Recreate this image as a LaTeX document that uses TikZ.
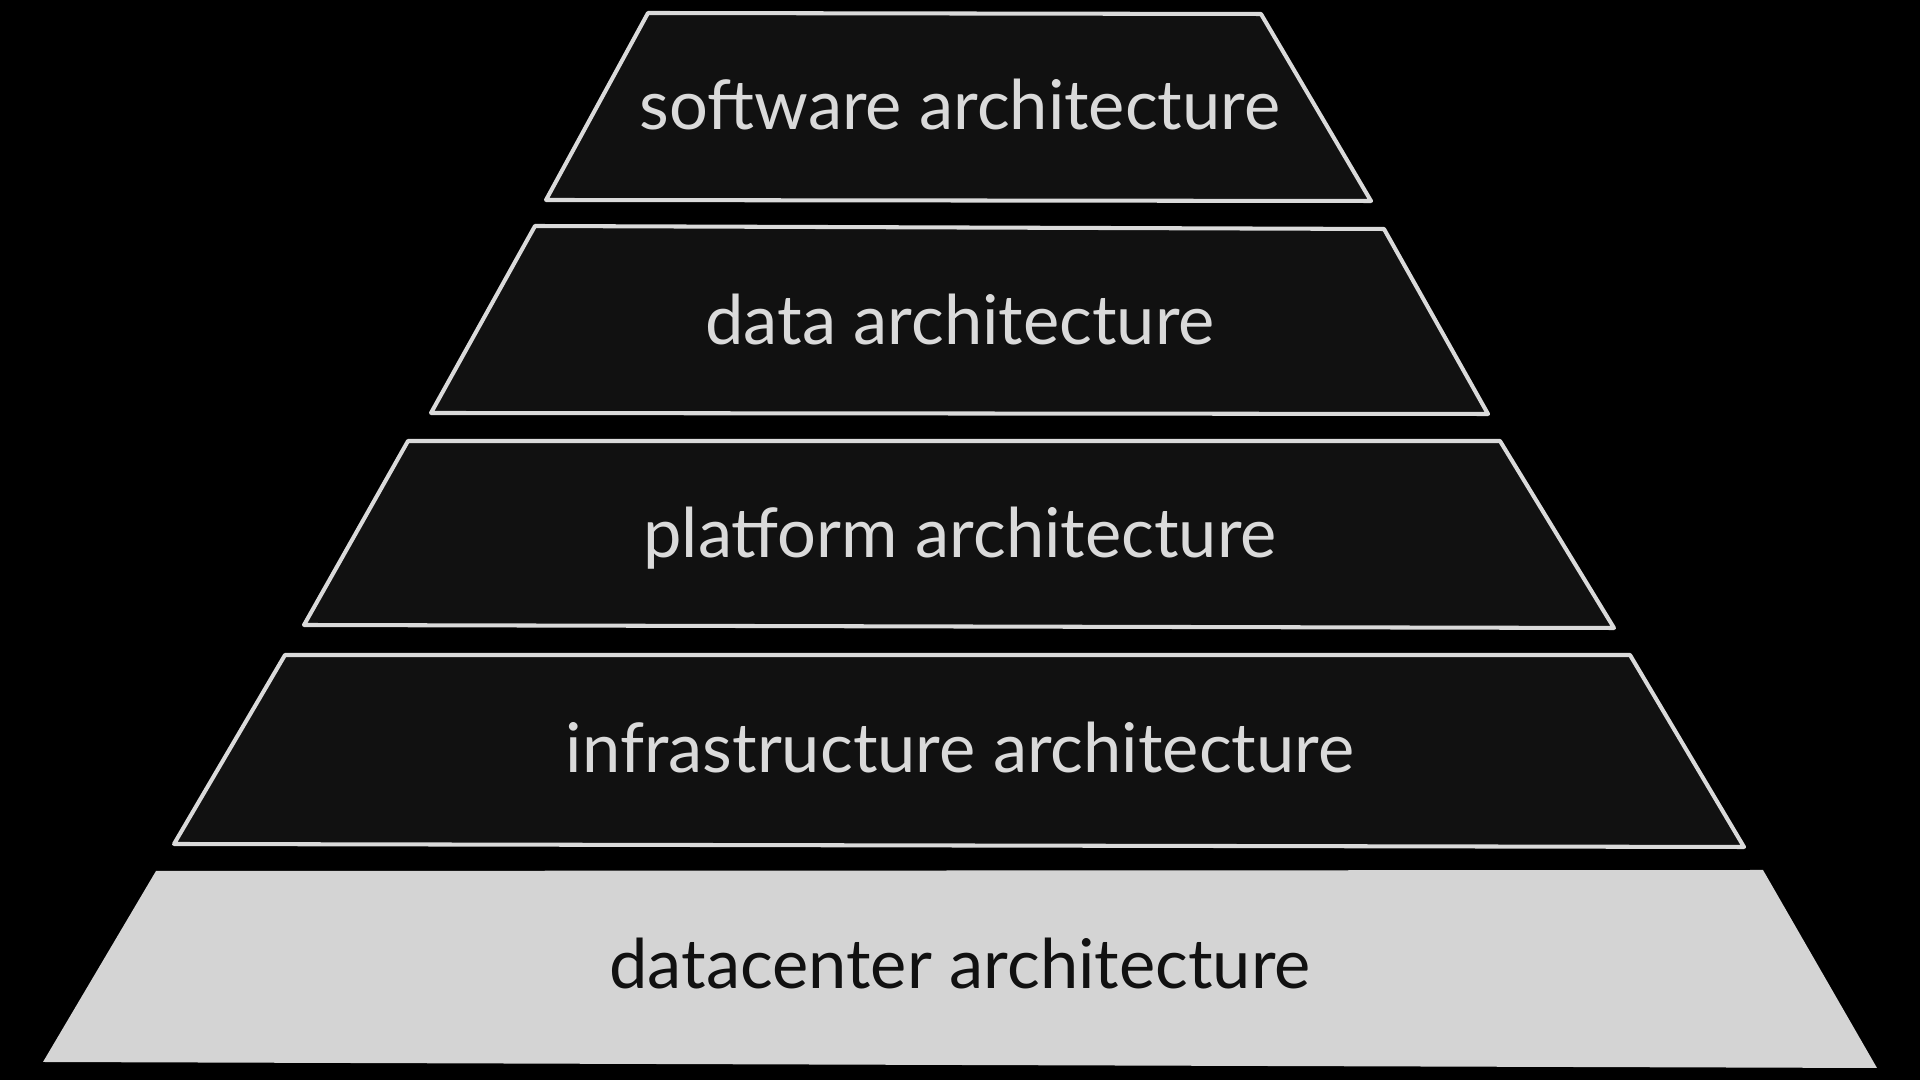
\documentclass[tikz,border=0pt]{standalone}
\usepackage{fontspec}
\setmainfont{Lato}
\usepackage{xcolor}
\usetikzlibrary{positioning}
\definecolor{slab}{HTML}{111111}
\definecolor{rim}{HTML}{DADADA}
\definecolor{groundfill}{HTML}{D4D4D4}
\tikzset{
    x=0.01cm, y=-0.01cm, % one unit is one pixel of the 1920x1080 frame
    layer/.style={fill=slab, draw=rim, line width=1.15pt, line join=round}, % the dark tiers
    ground/.style={fill=groundfill, draw=none}, % the light base tier
    tiertext/.style={text=rim, anchor=base, inner sep=0pt, font=\fontsize{19.5}{23}\selectfont},
    groundtext/.style={tiertext, text=slab},
}

\begin{document}
\begin{tikzpicture}
    \fill[black] (0,0) rectangle (1920,1080);
    \useasboundingbox (0,0) rectangle (1920,1080);
    % tiers, top to bottom
    \draw[layer] (648,13) -- (1261,14) -- (1371,201) -- (546,200) -- cycle;
    \draw[layer] (535,226) -- (1384,229) -- (1488,414) -- (431,413) -- cycle;
    \draw[layer] (408,441) -- (1500,441) -- (1614,628) -- (304,625) -- cycle;
    \draw[layer] (285,655) -- (1630,655) -- (1744,847) -- (174,844) -- cycle;
    \fill[ground] (156,871) -- (1763,870) -- (1877,1068) -- (43,1062) -- cycle;
    % labels
    \node[tiertext] (software) at (960,130) {software architecture};
    \node[tiertext] (data) at (960,345) {data architecture};
    \node[tiertext] (platform) at (960,558) {platform architecture};
    \node[tiertext] (infra) at (960,773) {infrastructure architecture};
    \node[groundtext] (datacenter) at (960,989) {datacenter architecture};
\end{tikzpicture}
\end{document}
